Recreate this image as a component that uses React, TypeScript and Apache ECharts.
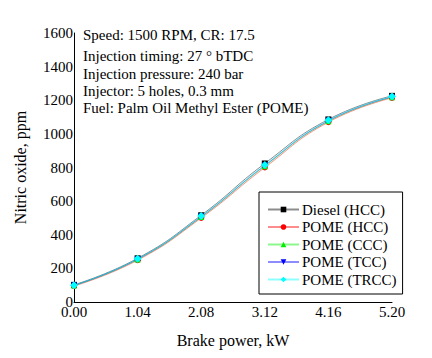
import React, { useEffect, useRef } from "react";
import * as echarts from "echarts";

const xValues = [0, 1.04, 2.08, 3.12, 4.16, 5.2];
const seriesNames = ["Diesel (HCC)", "POME (HCC)", "POME (CCC)", "POME (TCC)", "POME (TRCC)"];
const dieselHCC = [102, 260, 516, 824, 1086, 1226];
const pomeHCC = [95, 249, 500, 800, 1070, 1214];
const pomeCCC = [98, 253, 505, 808, 1075, 1218];
const pomeTCC = [99, 255, 508, 812, 1078, 1220];
const pomeTRCC = [100, 257, 511, 815, 1081, 1222];
const seriesColors = ["#000000", "#ff0000", "#00ee00", "#0000ff", "#00ffff"];
const seriesSymbols = ["rect", "circle", "triangle", "triangle", "diamond"];
const symbolRotations = [0, 0, 0, 180, 0];
const annotations = [
  "Speed: 1500 RPM, CR: 17.5",
  "Injection timing: 27 ° bTDC",
  "Injection pressure: 240 bar",
  "Injector: 5 holes, 0.3 mm",
  "Fuel: Palm Oil Methyl Ester (POME)",
];
const annotationY = [36, 57, 75, 92, 109];

const FONT = "'Liberation Serif', 'Times New Roman', serif";

export default function App() {
  const ref = useRef<HTMLDivElement>(null);
  useEffect(() => {
    if (!ref.current) return;
    const chart = echarts.init(ref.current, undefined, { renderer: "svg" });
    const allData = [dieselHCC, pomeHCC, pomeCCC, pomeTCC, pomeTRCC];
    chart.setOption({
      animation: false,
      backgroundColor: "#ffffff",
      textStyle: { fontFamily: FONT, color: "#000" },
      grid: { left: 74, right: 40, top: 33, bottom: 56, containLabel: false },
      xAxis: {
        type: "value",
        min: 0,
        max: 5.2,
        interval: 1.04,
        name: "Brake power, kW",
        nameLocation: "middle",
        nameGap: 30,
        nameTextStyle: { fontFamily: FONT, fontSize: 16, color: "#000" },
        axisLine: { show: true, onZero: false, lineStyle: { color: "#000", width: 1 } },
        axisTick: { show: false },
        splitLine: { show: false },
        axisLabel: {
          fontFamily: FONT,
          fontSize: 15,
          color: "#000",
          margin: 2,
          formatter: (v: number) => v.toFixed(2),
        },
      },
      yAxis: {
        type: "value",
        min: 0,
        max: 1600,
        interval: 200,
        name: "Nitric oxide, ppm",
        nameLocation: "middle",
        nameGap: 46,
        nameTextStyle: { fontFamily: FONT, fontSize: 16, color: "#000" },
        axisLine: { show: true, lineStyle: { color: "#000", width: 1 } },
        axisTick: { show: false },
        splitLine: { show: false },
        axisLabel: {
          fontFamily: FONT,
          fontSize: 15,
          color: "#000",
          margin: 1,
          formatter: (v: number) => String(v),
        },
      },
      legend: {
        orient: "vertical",
        left: 259,
        top: 192,
        width: 138,
        padding: [10, 6, 7, 8],
        borderColor: "#000",
        borderWidth: 1,
        backgroundColor: "#fff",
        itemWidth: 31,
        itemHeight: 7,
        itemGap: 2.5,
        textStyle: { fontFamily: FONT, fontSize: 15, color: "#000", padding: [0, 0, 0, -2] },
        data: seriesNames,
      },
      graphic: annotations.map((t, i) => ({
        type: "text",
        left: 83,
        top: annotationY[i] - 9,
        style: { text: t, font: `15px ${FONT}`, fill: "#000" },
      })),
      series: seriesNames.map((name, i) => ({
        name,
        type: "line",
        smooth: true,
        data: xValues.map((x, j) => [x, allData[i][j]]),
        symbol: seriesSymbols[i],
        symbolRotate: symbolRotations[i],
        symbolSize: i === 4 ? 8 : 6,
        showAllSymbol: true,
        clip: false,
        itemStyle: { color: seriesColors[i] },
        lineStyle: { color: seriesColors[i], width: 1, opacity: 0.45 },
        z: 2 + i,
      })),
    });
    return () => chart.dispose();
  }, []);
  return <div ref={ref} style={{ width: 432, height: 358, margin: -8 }} />;
}
